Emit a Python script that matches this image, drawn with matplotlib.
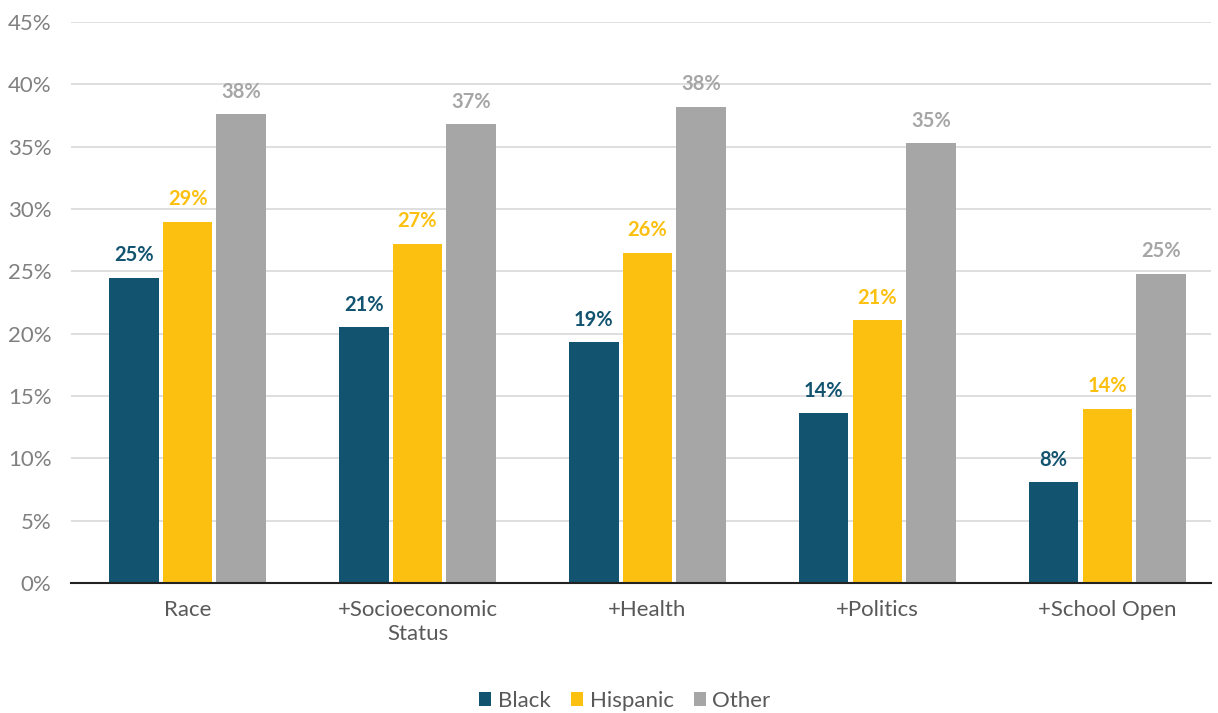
import matplotlib
matplotlib.use("Agg")
import matplotlib.pyplot as plt
import numpy as np
from matplotlib.patches import Patch

categories = ["Race", "+Socioeconomic\nStatus", "+Health", "+Politics", "+School Open"]
series_names = ["Black", "Hispanic", "Other"]
black = [24.5, 20.5, 19.3, 13.6, 8.1]
hispanic = [29.0, 27.2, 26.5, 21.1, 14.0]
other = [37.6, 36.8, 38.2, 35.3, 24.8]
labels_black = ["25%", "21%", "19%", "14%", "8%"]
labels_hispanic = ["29%", "27%", "26%", "21%", "14%"]
labels_other = ["38%", "37%", "38%", "35%", "25%"]
yticks = [0, 5, 10, 15, 20, 25, 30, 35, 40, 45]

colors = ["#12536F", "#FCC010", "#A6A6A6"]
plt.rcParams['font.family'] = ['Lato', 'DejaVu Sans']

fig = plt.figure(figsize=(12.18, 7.13), dpi=100)
ax = fig.add_axes([0.0583, 0.1823, 0.9357, 0.7867])

x = np.arange(len(categories))
w = 0.215
off = 0.233
data = [black, hispanic, other]
labs = [labels_black, labels_hispanic, labels_other]
for i, (vals, lab, c) in enumerate(zip(data, labs, colors)):
    pos = x + (i - 1) * off
    ax.bar(pos, vals, width=w, color=c, zorder=3)
    for p, v, t in zip(pos, vals, lab):
        ax.annotate(t, (p, v), xytext=(0, 9), textcoords="offset points",
                    ha="center", va="bottom", fontsize=14.5, fontweight="bold",
                    color=c)

ax.set_xlim(-0.507, 4.45)
ax.set_ylim(0, 45)
ax.set_yticks(yticks)
ax.set_yticklabels([f"{t}%" for t in yticks], fontsize=16, color="#808080")
ax.set_xticks(x)
ax.set_xticklabels(categories, fontsize=16, color="#595959", linespacing=1.25)
ax.tick_params(axis="both", length=0)
ax.tick_params(axis="x", pad=12)
ax.tick_params(axis="y", pad=14)
ax.grid(axis="y", color="#D9D9D9", linewidth=1.2, zorder=0)
for s in ["left", "right", "top"]:
    ax.spines[s].set_visible(False)
ax.spines["bottom"].set_color("#222222")
ax.spines["bottom"].set_linewidth(1.5)
ax.spines["bottom"].set_zorder(4)

handles = [Patch(facecolor=c, label=n) for c, n in zip(colors, series_names)]
leg = fig.legend(handles=handles, loc="center", bbox_to_anchor=(0.513, 0.017),
                 ncol=3, frameon=False, fontsize=16, handlelength=0.55,
                 handleheight=0.55, handletextpad=0.3, columnspacing=0.9)
for t in leg.get_texts():
    t.set_color("#595959")

fig.savefig("out.png", dpi=100)
